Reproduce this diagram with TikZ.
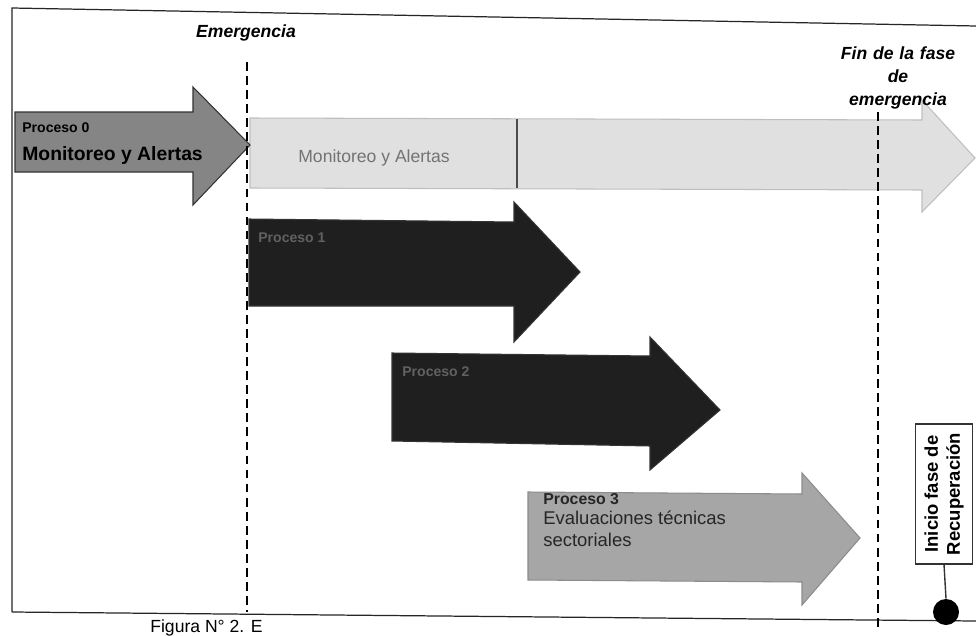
\documentclass[tikz,border=0pt]{standalone}
\usepackage{fontspec}
\setmainfont{Liberation Sans}
\begin{document}
\begin{tikzpicture}[x=0.02cm,y=-0.02cm,
  frame/.style={draw=black!85,line width=0.7pt},
  vline/.style={draw=black,dashed,line width=0.6pt,dash pattern=on 5pt off 3pt},
  arrowshape/.style={draw=black!80,line width=0.6pt},
  ttl/.style={font=\bfseries\itshape\fontsize{10}{12}\selectfont,align=center,inner sep=0pt},
  lbl/.style={anchor=west,inner sep=0pt,align=left}]
\useasboundingbox (0,0) rectangle (976,635);
\fill[white] (0,0) rectangle (976,635);
% frame
\draw[frame] (12,612) -- (12,8) -- (976,26);
\draw[frame] (12,612) -- (976,621);
% light arrow (Monitoreo y Alertas continuation)
\path[arrowshape,draw=black!25,fill=black!12] (250,118) -- (922,120) -- (922,100) -- (975,158) -- (922,212) -- (922,190) -- (250,188) -- cycle;
\draw[black!70,line width=0.8pt] (517,119) -- (517,188);
\node[lbl,text=black!55,font=\fontsize{10}{12}\selectfont] (ma) at (298,158) {Monitoreo y Alertas};
% arrow 0
\path[arrowshape,fill=black!48] (15,112) -- (193,112) -- (193,87) -- (250,145) -- (193,205) -- (193,172) -- (15,172) -- cycle;
\node[lbl,font=\bfseries\fontsize{8}{10}\selectfont] (p0) at (22,128) {Proceso 0};
\node[lbl,font=\bfseries\fontsize{11}{13}\selectfont] (p0b) at (22,156) {Monitoreo y Alertas};
% arrow 1
\path[arrowshape,fill=black!88] (249,219) -- (514,222) -- (514,202) -- (580,272) -- (514,342) -- (514,306) -- (249,306) -- cycle;
\node[lbl,text=black!62,font=\bfseries\fontsize{8}{10}\selectfont] (p1) at (258,238) {Proceso 1};
% arrow 2
\path[arrowshape,fill=black!88] (392,353) -- (650,356) -- (650,337) -- (720,410) -- (650,470) -- (650,446) -- (392,441) -- cycle;
\node[lbl,text=black!62,font=\bfseries\fontsize{8}{10}\selectfont] (p2) at (402,372) {Proceso 2};
% arrow 3
\path[arrowshape,draw=black!45,fill=black!35] (528,492) -- (802,494) -- (802,473) -- (860,538) -- (802,605) -- (802,582) -- (528,580) -- cycle;
\node[lbl,font=\bfseries\fontsize{9}{11}\selectfont,text=black!85] (p3) at (543,499) {Proceso 3};
\node[anchor=north west,inner sep=0pt,align=left,font=\fontsize{10.5}{12.5}\selectfont,text=black!85] (p3b) at (543,511) {Evaluaciones técnicas\\sectoriales};
% dashed lines
\draw[vline] (247,62) -- (247,612);
\draw[vline] (878,112) -- (878,632);
% titles
\node[ttl] (em) at (246,33) {Emergencia};
\node[ttl,text width=3cm] (fin) at (898,78) {Fin de la fase\\[1pt] de\\[1pt] emergencia};
% recovery box
\node[draw=black!80,line width=0.6pt,fill=white,minimum width=57*0.02cm,minimum height=140*0.02cm,inner sep=0pt] (box) at (944,494) {};
\node[rotate=90,font=\bfseries\fontsize{10.5}{12.5}\selectfont,align=center,inner sep=0pt] (boxt) at (box.center) {Inicio fase de\\Recuperación};
\node[circle,fill=black,minimum size=26*0.02cm,inner sep=0pt] (dot) at (946,612) {};
\draw[black!80,line width=0.8pt] (box.south) -- (dot.north);
% caption (at the page edge)
\node[anchor=north west,inner sep=0pt,font=\fontsize{10}{12}\selectfont] (cap) at (150,619) {Figura N° 2. E};
\end{tikzpicture}
\end{document}
